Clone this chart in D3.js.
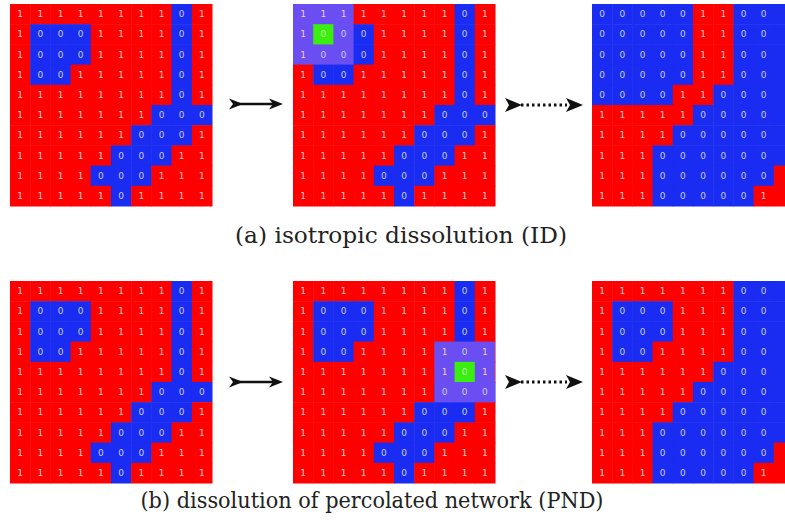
<!DOCTYPE html>
<html>
<head>
<meta charset="utf-8">
<script src="https://cdn.jsdelivr.net/npm/d3@7"></script>
<style>
body{margin:0;background:#fff;}
.num{font-family:"DejaVu Sans",sans-serif;font-size:9px;text-anchor:middle;}
</style>
</head>
<body>
<div id="fig"></div>
<script>
// grilla inicial (1 = roca, 0 = poro)
var gridInicial = [
  "1111111101",
  "1000111101",
  "1000111101",
  "1001111101",
  "1111111101",
  "1111111000",
  "1111110001",
  "1111100011",
  "1111000111",
  "1111101111"
];
var gridFinalID = [
  "0000011000",
  "0000011000",
  "0000011000",
  "0000011000",
  "0000110000",
  "1111100000",
  "1111000000",
  "1110000000",
  "1110000001",
  "1110000011"
];
var gridFinalPND = [
  "1111111000",
  "1000111000",
  "1000111000",
  "1001111000",
  "1111110000",
  "1111100000",
  "1111000000",
  "1110000000",
  "1110000001",
  "1110000011"
];
// celda elegida (fila, columna) en cada caso
var celdaID = [1,1];
var celdaPND = [4,8];
var captions = ["(a) isotropic dissolution (ID)", "(b) dissolution of percolated network (PND)"];

var W = 785, H = 523;
var lado = 202;
var svg = d3.select("#fig").append("svg").attr("width",W).attr("height",H);

var colX = [10,293,592];
var filaY = [4,281];

var paneles = [
  {g:gridInicial, x:colX[0], y:filaY[0], sel:null},
  {g:gridInicial, x:colX[1], y:filaY[0], sel:celdaID},
  {g:gridFinalID, x:colX[2], y:filaY[0], sel:null},
  {g:gridInicial, x:colX[0], y:filaY[1], sel:null},
  {g:gridInicial, x:colX[1], y:filaY[1], sel:celdaPND},
  {g:gridFinalPND, x:colX[2], y:filaY[1], sel:null}
];

var idx = d3.range(10);
var esc = d3.scaleBand().domain(idx).range([0,lado]);

function dibujaGrilla(p){
  var g = svg.append("g").attr("transform","translate("+p.x+","+p.y+")");
  var celdas = [];
  p.g.forEach(function(fila,i){
    fila.split("").forEach(function(v,j){ celdas.push({r:i,c:j,v:v}); });
  });
  g.selectAll("rect.celda").data(celdas).enter().append("rect")
    .attr("class","celda")
    .attr("x",function(d){return esc(d.c);})
    .attr("y",function(d){return esc(d.r);})
    .attr("width",esc.bandwidth()+0.5)
    .attr("height",esc.bandwidth()+0.5)
    .attr("fill",function(d){return d.v=="1" ? "#ff0000" : "#1a2cf2";});

  if(p.sel){
    var r = p.sel[0], c = p.sel[1];
    var r0 = Math.max(0,r-1), c0 = Math.max(0,c-1);
    var r1 = Math.min(9,r+1), c1 = Math.min(9,c+1);
    g.append("rect")
      .attr("x",esc(c0)).attr("y",esc(r0))
      .attr("width",esc(c1)+esc.bandwidth()-esc(c0))
      .attr("height",esc(r1)+esc.bandwidth()-esc(r0))
      .attr("fill","#6a4ef2");
    g.append("rect")
      .attr("x",esc(c)).attr("y",esc(r))
      .attr("width",esc.bandwidth()).attr("height",esc.bandwidth())
      .attr("fill","#3aee10");
  }

  // la ultima columna de la derecha queda cortada por el borde, igual que en la figura
  g.selectAll("text.num").data(celdas.filter(function(d){ return p.x+esc(d.c)+esc.bandwidth()/2+3 < W; }))
    .enter().append("text")
    .attr("class","num")
    .attr("x",function(d){return esc(d.c)+esc.bandwidth()/2;})
    .attr("y",function(d){return esc(d.r)+esc.bandwidth()/2+3;})
    .attr("fill",function(d){
      if(p.sel && d.r==p.sel[0] && d.c==p.sel[1]) return "#b8f8a0";
      return d.v=="1" ? "#f6c8c8" : "#c8ccf6";
    })
    .text(function(d){return d.v;});
}
paneles.forEach(dibujaGrilla);

// flechas
function punta(x,y,l,h){
  return "M"+(x-l)+","+(y-h)+" L"+x+","+y+" L"+(x-l)+","+(y+h)+" L"+(x-l+4)+","+y+" Z";
}
function flechaSolida(x0,x1,y){
  var g = svg.append("g");
  g.append("line").attr("x1",x0+6).attr("x2",x1-8).attr("y1",y).attr("y2",y)
    .attr("stroke","#111").attr("stroke-width",2.5);
  g.append("path").attr("d",punta(x0+14,y,14,5.5)).attr("fill","#111");
  g.append("path").attr("d",punta(x1,y,14,5.5)).attr("fill","#111");
}
function flechaPunteada(x0,x1,y){
  var g = svg.append("g");
  g.append("line").attr("x1",x0+16).attr("x2",x1-16).attr("y1",y).attr("y2",y)
    .attr("stroke","#111").attr("stroke-width",3).attr("stroke-dasharray","2.5,3");
  g.append("path").attr("d",punta(x0+17,y,17,7)).attr("fill","#111");
  g.append("path").attr("d",punta(x1,y,17,7)).attr("fill","#111");
}
flechaSolida(229,283,104);
flechaPunteada(505,583,105);
flechaSolida(229,283,382);
flechaPunteada(505,583,382);

svg.selectAll("text.cap").data(captions).enter().append("text")
  .attr("class","cap")
  .attr("x",function(d,i){return i==0 ? 401 : 372;})
  .attr("y",function(d,i){return i==0 ? 243 : 508;})
  .attr("font-family","'DejaVu Serif', serif")
  .attr("font-size",22)
  .attr("textLength",function(d,i){return i==0 ? 332 : 463;})
  .attr("lengthAdjust","spacingAndGlyphs")
  .attr("fill","#222")
  .attr("text-anchor","middle")
  .text(function(d){return d;});
</script>
</body>
</html>
